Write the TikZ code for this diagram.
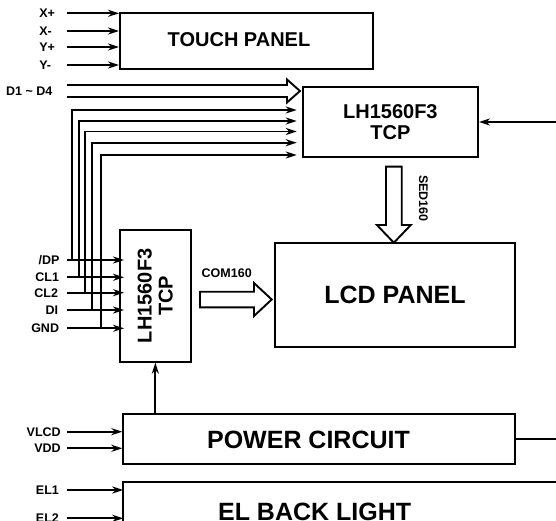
\documentclass[tikz,border=0pt]{standalone}
\usepackage{fontspec}
\setmainfont{Liberation Sans}
\usetikzlibrary{arrows.meta}
\begin{document}
\begin{tikzpicture}[x=1pt,y=-1pt,
  line width=1.9pt,
  box/.style={draw, line width=1.9pt, inner sep=0pt, align=center},
  arr/.style={-{Stealth[length=11pt,width=7pt,inset=3.5pt]}},
  labe/.style={anchor=east, inner sep=0pt, font=\bfseries\fontsize{12.5}{12.5}\selectfont},
  labw/.style={anchor=west, inner sep=0pt, font=\bfseries\fontsize{12.5}{12.5}\selectfont},
  smalltxt/.style={inner sep=0pt, font=\bfseries\fontsize{12.5}{12.5}\selectfont},
  bigtxt/.style={font=\bfseries\fontsize{20}{21}\selectfont, align=center, inner sep=0pt},
  hugetxt/.style={font=\bfseries\fontsize{25}{25}\selectfont, inner sep=0pt},
  bus/.style={line width=1.9pt, line join=miter}
]
\useasboundingbox (0,0) rectangle (556,521);
\clip (0,0) rectangle (556,521);

% boxes
\node[box, minimum width=252.7pt, minimum height=55.7pt] (touch) at (246.35,41.15) {};
\node[bigtxt] (touchtxt) at (239,40) {TOUCH PANEL};
\node[box, bigtxt, minimum width=175.3pt, minimum height=69.4pt] (tcp1) at (390.35,122) {LH1560F3\\TCP};
\node[box, minimum width=70.7pt, minimum height=131.7pt] (tcp2) at (155.35,295.85) {};
\node[bigtxt, rotate=90] (tcp2txt) at (tcp2.center) {LH1560F3\\TCP};
\node[box, hugetxt, minimum width=240pt, minimum height=103.4pt] (lcd) at (395,295) {LCD PANEL};
\node[box, minimum width=391.7pt, minimum height=50pt] (power) at (319.15,439) {};
\node[hugetxt] (powertxt) at (308.5,439.6) {POWER CIRCUIT};
\draw (565,481.7) -| (123.3,530);
\coordinate (elw) at (123.3,481.7);
\node[hugetxt] (eltxt) at (314.6,512.3) {EL BACK LIGHT};

% touch panel inputs
\foreach \t/\y/\n in {X+/13.3/xp, X-/31/xm, Y+/47/yp, Y-/65/ym} {
  \node[labw] (l\n) at (38.3,\y) {\t};
  \coordinate (s\n) at (67,\y);
  \draw[arr] (s\n) -- (touch.west |- s\n);
}

% D1 ~ D4 bus
\node[labe] (ld) at (53.3,91) {D1 \char`~{} D4};
\draw[bus] (67,85) -- (287,85) -- (287,79.5) -- (300,91) -- (287,102.5) -- (287,97) -- (67,97);

% control lines
\node[labe] (ldp) at (60.5,260) {/DP};
\node[labe] (lcl1) at (60,277.3) {CL1};
\node[labe] (lcl2) at (59,292.7) {CL2};
\node[labe] (ldi) at (59,310) {DI};
\node[labe] (lgnd) at (60,328.3) {GND};
\foreach \vx/\ty/\by/\n in {71.7/110/260/a, 79/121/277.3/b, 85.3/131.5/292.7/c, 92.3/142.7/310/d, 100.7/155/328.3/e} {
  \coordinate (bv\n) at (\vx,\by);
  \coordinate (bt\n) at (\vx,\ty);
  \draw[arr] (bv\n) -- (bt\n) -- ([xshift=-5pt]tcp1.west |- bt\n);
  \coordinate (c\n) at (67,\by);
  \draw[arr] (c\n) -- ([xshift=5pt]tcp2.west |- c\n);
}

% right input to TCP1
\coordinate (rin) at (560,122);
\draw[arr] (rin) -- (tcp1.east);

% SED160
\draw[bus] (386,225) -- (386,166.7) -- (401.7,166.7) -- (401.7,225) -- (410.8,225) -- (393.85,242.7) -- (376.9,225) -- cycle;
\node[smalltxt, rotate=-90] (sed) at (423.3,198.3) {SED160};

% COM160
\draw[bus] (254,291.7) -- (200,291.7) -- (200,307.3) -- (254,307.3) -- (254,316) -- (271.7,299.5) -- (254,283) -- cycle;
\node[smalltxt] (com) at (226.7,272.7) {COM160};

% power to TCP2
\draw[arr] (tcp2.south |- power.north) -- (tcp2.south);

% power inputs
\node[labe] (lvlcd) at (61.7,431.7) {VLCD};
\node[labe] (lvdd) at (61.7,448.3) {VDD};
\foreach \y/\n in {431.7/vlcd, 448.3/vdd} {
  \coordinate (p\n) at (67,\y);
  \draw[arr] (p\n) -- (power.west |- p\n);
}
\draw (power.east) -- (560,439);

% EL inputs
\node[labw] (lel1) at (35,490) {EL1};
\node[labw] (lel2) at (35,518.3) {EL2};
\foreach \y/\n in {490/ela, 518.3/elb} {
  \coordinate (e\n) at (67,\y);
  \draw[arr] (e\n) -- (elw |- e\n);
}
\end{tikzpicture}
\end{document}
